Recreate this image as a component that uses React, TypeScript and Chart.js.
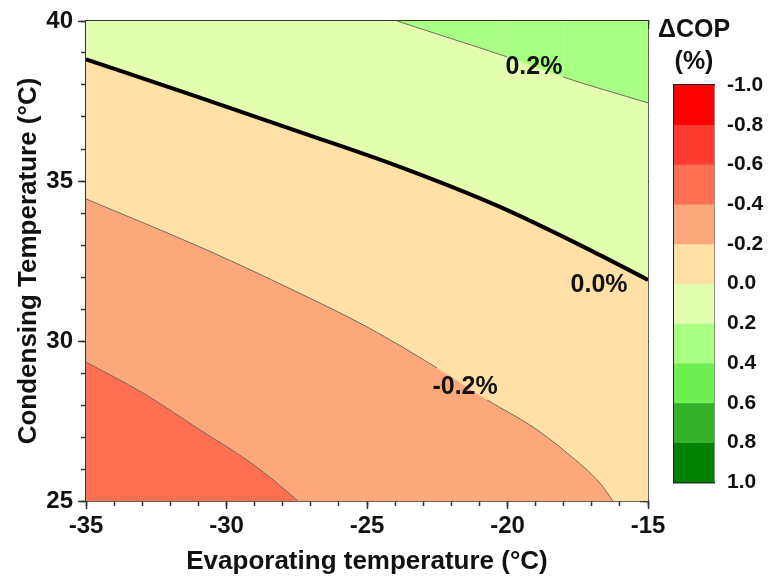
import React, { useEffect, useRef } from "react";
import { Chart, registerables } from "chart.js";

Chart.register(...registerables);

const FONT = '"Liberation Sans", Arial, Helvetica, sans-serif';
const INK = "#111111";
const FRAME = "#333333";

// ΔCOP (%) colour scale: band boundaries and the colour of each band
const scaleBounds = [-1.0, -0.8, -0.6, -0.4, -0.2, 0.0, 0.2, 0.4, 0.6, 0.8, 1.0];
const scaleColors = [
  "#FF0000",
  "#FF3B30",
  "#FF7052",
  "#FCA87A",
  "#FFE0A6",
  "#E2FEAE",
  "#AAFF85",
  "#6EF055",
  "#33B128",
  "#008000",
];

// Contour lines: evaporating temperature (x, ºC) vs condensing temperature (y, ºC)
const contourPlus02X = [-23.93, -22.0, -20.02, -18.02, -15.0];
const contourPlus02Y = [40.0, 39.45, 38.88, 38.25, 37.44];

const contourZeroX = [-35.0, -31.0, -27.38, -23.83, -20.27, -17.06, -15.0];
const contourZeroY = [38.8, 37.62, 36.53, 35.44, 34.19, 32.84, 31.91];

const contourMinus02X = [-35.0, -30.69, -27.63, -25.0, -22.51, -20.73, -19.09, -17.88, -16.71, -16.25];
const contourMinus02Y = [34.44, 32.84, 31.59, 30.44, 29.16, 28.16, 27.31, 26.5, 25.56, 25.0];

const contourMinus04X = [-35.0, -32.97, -30.94, -29.27, -28.2, -27.46];
const contourMinus04Y = [29.34, 28.375, 27.22, 26.28, 25.56, 25.0];

// In-plot contour labels (level, position in data units)
const labelLevels = [0.2, 0.0, -0.2];
const labelX = [-19.06, -16.74, -21.51];
const labelY = [38.56, 31.75, 28.56];

const X_MIN = -35;
const X_MAX = -15;
const Y_MIN = 25;
const Y_MAX = 40;

const bandColor = (lo: number) => scaleColors[scaleBounds.findIndex((b) => Math.abs(b - lo) < 1e-9)];

const toPoints = (xs: number[], ys: number[]) => xs.map((x, i) => ({ x, y: ys[i] }));

const lineWithGap = (color: string, gapIndex: number) => (ctx: any) =>
  ctx.p0DataIndex === gapIndex ? "rgba(0,0,0,0)" : color;

function markAxis(axis: "x" | "y", position: string, step: number, len: number, weight: number) {
  const isX = axis === "x";
  return {
    type: "linear",
    axis,
    position,
    min: isX ? X_MIN : Y_MIN,
    max: isX ? X_MAX : Y_MAX,
    weight,
    z: 1,
    ticks: { display: false, stepSize: step },
    grid: { drawOnChartArea: false, tickLength: len, tickColor: FRAME, tickWidth: 1.5 },
    border: { color: FRAME, width: 1.5 },
    afterFit: (s: any) => {
      if (isX) s.height = 0;
      else s.width = 0;
    },
  };
}

const plotBackground = {
  id: "plotBackground",
  beforeDatasetsDraw(chart: any) {
    const { ctx, chartArea } = chart;
    ctx.save();
    ctx.fillStyle = bandColor(0.0);
    ctx.fillRect(chartArea.left, chartArea.top, chartArea.right - chartArea.left, chartArea.bottom - chartArea.top);
    ctx.restore();
  },
};

const contourLabels = {
  id: "contourLabels",
  afterDatasetsDraw(chart: any) {
    const { ctx, scales } = chart;
    ctx.save();
    ctx.font = `bold 25px ${FONT}`;
    ctx.fillStyle = INK;
    ctx.textAlign = "center";
    ctx.textBaseline = "middle";
    labelLevels.forEach((lv, i) => {
      const px = scales.x.getPixelForValue(labelX[i]);
      const py = scales.y.getPixelForValue(labelY[i]);
      ctx.fillText(`${lv.toFixed(1)}%`, px, py);
    });
    ctx.restore();
  },
};

function ContourChart() {
  const ref = useRef<HTMLCanvasElement>(null);
  useEffect(() => {
    if (!ref.current) return;
    const thin = "#6E6E60";
    const chart = new Chart(ref.current, {
      type: "line",
      data: {
        datasets: [
          {
            label: "0.2",
            data: toPoints(contourPlus02X, contourPlus02Y),
            borderColor: thin,
            borderWidth: 1,
            backgroundColor: bandColor(0.2),
            fill: "end",
            order: 4,
            segment: { borderColor: lineWithGap(thin, 2) },
          },
          {
            label: "0.0",
            data: toPoints(contourZeroX, contourZeroY),
            borderColor: "#000000",
            borderWidth: 4,
            backgroundColor: bandColor(-0.2),
            fill: "start",
            order: 3,
          },
          {
            label: "-0.2",
            data: toPoints(contourMinus02X, contourMinus02Y),
            borderColor: thin,
            borderWidth: 1,
            backgroundColor: bandColor(-0.4),
            fill: "start",
            order: 2,
            segment: { borderColor: lineWithGap(thin, 4) },
          },
          {
            label: "-0.4",
            data: toPoints(contourMinus04X, contourMinus04Y),
            borderColor: thin,
            borderWidth: 1,
            backgroundColor: bandColor(-0.6),
            fill: "start",
            order: 1,
          },
        ],
      },
      options: {
        animation: false,
        responsive: false,
        devicePixelRatio: 1,
        layout: { padding: { left: 0, right: 120, top: 21, bottom: 0 } },
        elements: {
          point: { radius: 0, hoverRadius: 0 },
          line: { cubicInterpolationMode: "monotone" },
        },
        datasets: { line: { clip: 0 } },
        plugins: { legend: { display: false }, tooltip: { enabled: false } },
        scales: {
          x: {
            type: "linear",
            position: "bottom",
            min: X_MIN,
            max: X_MAX,
            weight: 1,
            z: 1,
            ticks: {
              stepSize: 5,
              autoSkip: false,
              maxRotation: 0,
              padding: 3,
              color: INK,
              font: { family: FONT, size: 24, weight: "bold" },
            },
            grid: { drawOnChartArea: false, tickLength: 8, tickColor: FRAME, tickWidth: 1.5 },
            border: { color: FRAME, width: 1.5 },
            title: {
              display: true,
              text: "Evaporating temperature (°C)",
              color: INK,
              font: { family: FONT, size: 26, weight: "bold" },
              padding: { top: 0, bottom: 8 },
            },
            afterFit: (s: any) => {
              s.height = 84;
            },
          },
          xMinor: markAxis("x", "bottom", 1, 5, 0),
          xTop: markAxis("x", "top", 5, -8, 0),
          xTopMinor: markAxis("x", "top", 1, -4, 0),
          y: {
            type: "linear",
            position: "left",
            min: Y_MIN,
            max: Y_MAX,
            weight: 1,
            z: 1,
            ticks: {
              stepSize: 5,
              autoSkip: false,
              padding: 5,
              color: INK,
              font: { family: FONT, size: 24, weight: "bold" },
            },
            grid: { drawOnChartArea: false, tickLength: 8, tickColor: FRAME, tickWidth: 1.5 },
            border: { color: FRAME, width: 1.5 },
            title: {
              display: true,
              text: "Condensing Temperature (°C)",
              color: INK,
              font: { family: FONT, size: 26, weight: "bold" },
              padding: { top: 13, bottom: 0 },
            },
            afterFit: (s: any) => {
              s.width = 86;
            },
          },
          yMinor: markAxis("y", "left", 1, 5, 0),
          yRight: markAxis("y", "right", 5, -8, 0),
          yRightMinor: markAxis("y", "right", 1, -4, 0),
        } as any,
      },
      plugins: [plotBackground, contourLabels],
    } as any);
    return () => chart.destroy();
  }, []);
  return <canvas ref={ref} width={768} height={585} style={{ position: "absolute", left: 0, top: 0 }} />;
}

function ColorScale() {
  const ref = useRef<HTMLCanvasElement>(null);
  useEffect(() => {
    if (!ref.current) return;
    const datasets = scaleColors.map((c, i) => ({
      label: `${scaleBounds[i].toFixed(1)} – ${scaleBounds[i + 1].toFixed(1)}`,
      data: [[scaleBounds[i], scaleBounds[i + 1]]],
      backgroundColor: c,
      borderWidth: 0,
      barPercentage: 1,
      categoryPercentage: 1,
      grouped: false,
      xAxisID: "x",
      yAxisID: "y",
    }));
    const borderOnly = (type: string, position: string, horizontal: boolean, size: number) => ({
      type,
      position,
      display: true,
      ...(type === "linear" ? { min: -1, max: 1 } : {}),
      ticks: { display: false },
      grid: { display: false, drawTicks: false },
      border: { color: "#222222", width: 1.5 },
      afterFit: (s: any) => {
        if (horizontal) s.height = size;
        else s.width = size;
      },
    });
    const chart = new Chart(ref.current, {
      type: "bar",
      data: { labels: [""], datasets },
      options: {
        animation: false,
        responsive: false,
        devicePixelRatio: 1,
        layout: { padding: { left: 0, right: 0, top: 0, bottom: 0 } },
        plugins: {
          legend: { display: false },
          tooltip: { enabled: false },
          title: {
            display: true,
            text: ["ΔCOP", "(%)"],
            color: INK,
            font: { family: FONT, size: 25, weight: "bold", lineHeight: 1.28 },
            padding: { top: 14, bottom: 7 },
          },
        },
        scales: {
          y: {
            type: "linear",
            position: "right",
            reverse: true,
            min: -1,
            max: 1,
            ticks: {
              stepSize: 0.2,
              padding: 13,
              color: INK,
              font: { family: FONT, size: 21, weight: "bold" },
              callback: (v: any) => (Math.abs(v) < 1e-9 ? 0 : Number(v)).toFixed(1),
            },
            grid: { display: false, drawTicks: false },
            border: { color: "#222222", width: 1.5 },
            afterFit: (s: any) => {
              s.width = 54;
            },
          },
          x: borderOnly("category", "bottom", true, 0),
          xt: borderOnly("category", "top", true, 0),
          yl: borderOnly("linear", "left", false, 54),
        } as any,
      },
    } as any);
    return () => chart.destroy();
  }, []);
  return <canvas ref={ref} width={148} height={508} style={{ position: "absolute", left: 620, top: 0 }} />;
}

export default function App() {
  return (
    <div style={{ position: "fixed", left: 0, top: 0, width: 768, height: 585, background: "#ffffff", overflow: "hidden" }}>
      <ContourChart />
      <ColorScale />
    </div>
  );
}
